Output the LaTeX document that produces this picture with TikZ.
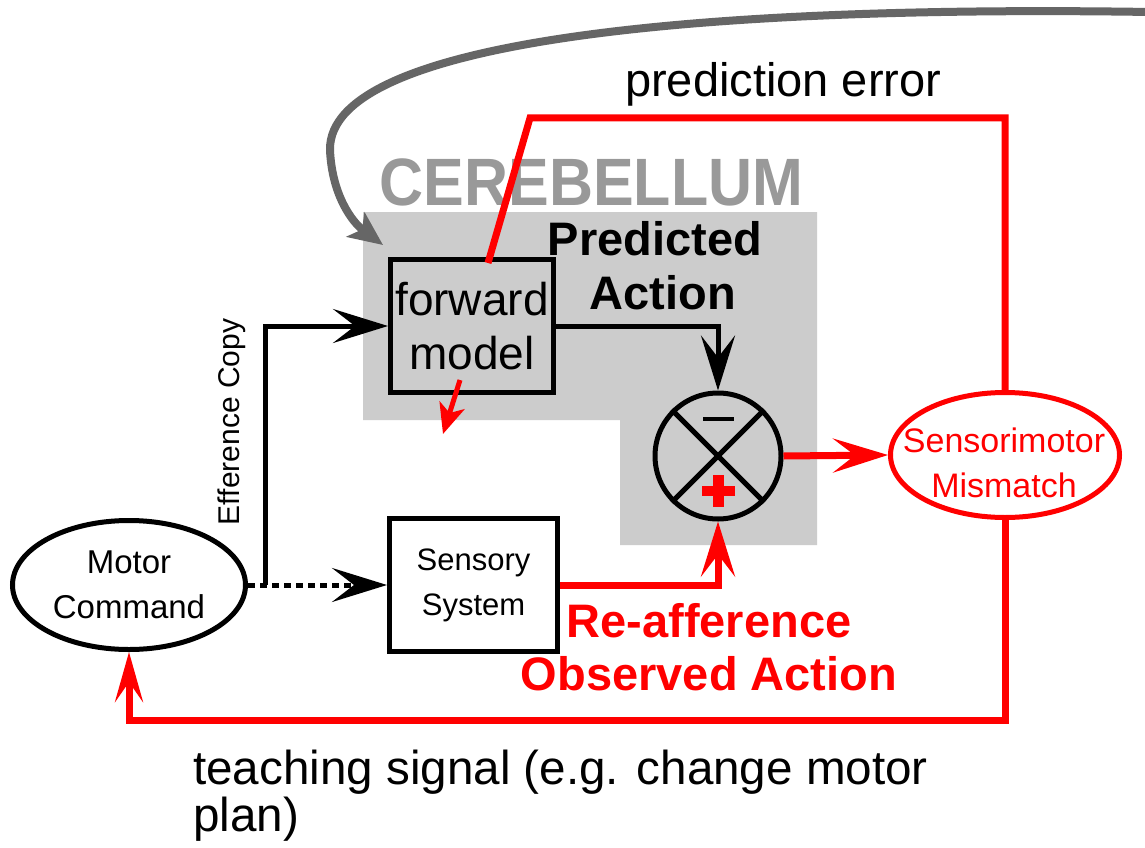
\documentclass[tikz,border=0pt]{standalone}
\usepackage{fontspec}
\setmainfont{Liberation Sans}
\newfontfamily\cerfont[FakeStretch=0.91]{Liberation Sans}
\usetikzlibrary{arrows.meta,shapes.geometric}
\definecolor{cgray}{HTML}{CCCCCC}
\definecolor{tgray}{HTML}{999999}
\definecolor{agray}{HTML}{666666}
\definecolor{myred}{HTML}{FF0000}
\begin{document}
\begin{tikzpicture}[x=1pt,y=-1pt,
  blk/.style={line width=5pt, draw=black},
  redl/.style={line width=7pt, draw=myred},
  bigtip/.style={-{Stealth[length=55pt,width=34pt,inset=22pt]}},
  box/.style={draw, line width=5pt, rectangle, inner sep=0pt, align=center},
  fs/.style={font=\fontsize{#1}{#1}\selectfont}
]
\useasboundingbox (0,0) rectangle (1145,848);
\fill[white] (0,0) rectangle (1145,848);
% cerebellum region
\fill[cgray] (363,212) -- (817,212) -- (817,545) -- (620,545) -- (620,420) -- (363,420) -- cycle;
\node[text=tgray, anchor=base, inner sep=0pt, font=\cerfont\bfseries\fontsize{67}{67}\selectfont] (cer) at (591.5,205) {CEREBELLUM};

% nodes
\node[box, minimum width=163pt, minimum height=133pt, font=\fontsize{46}{54}\selectfont] (fm) at (472,326) {forward\\model};
\node[box, minimum width=168pt, minimum height=133pt, font=\fontsize{31}{45}\selectfont] (ss) at (473.5,585) {Sensory\\System};
\node[draw, line width=5pt, circle, minimum size=126pt, inner sep=0pt] (c) at (718,456) {};
\node[draw, line width=5pt, ellipse, minimum width=233pt, minimum height=129pt, inner sep=0pt, align=center, font=\fontsize{33}{45}\selectfont] (mc) at (129,585) {Motor\\Command};
\node[draw=myred, line width=5pt, ellipse, minimum width=229pt, minimum height=125pt, inner sep=0pt] (sm) at (1005,455) {};
\node[text=myred, inner sep=0pt, align=center, font=\fontsize{34}{45}\selectfont] (smt) at (1004,463) {Sensorimotor\\Mismatch};

% comparator decorations
\draw[blk] (c.45) -- (c.225);
\draw[blk] (c.135) -- (c.315);
\draw[line width=4pt] (703,419) -- (734,419);
\fill[myred] (713,475) rectangle (724,507);
\fill[myred] (702,486) rectangle (735,496);

% labels
\node[anchor=base west, inner sep=0pt, fs=47] (pel) at (625,97) {prediction error};
\node[align=center, inner sep=0pt, font=\bfseries\fontsize{47}{54}\selectfont] (pa) at (659,266) {\hspace*{-8pt}Predicted\\\hspace*{8pt}Action};
\node[align=center, inner sep=0pt, text=myred, font=\bfseries\fontsize{47}{53}\selectfont] (ra) at (709,647) {Re-afference\\Observed Action};
\node[anchor=north west, align=left, inner sep=0pt, font=\fontsize{47.6}{47}\selectfont] (ts) at (193,750) {teaching signal (e.g. change motor\\plan)};
\node[rotate=90, inner sep=0pt, fs=30] (ec) at (232,422) {Efference Copy};

% connectors
\coordinate (br) at (265,585);
\draw[blk, bigtip] (br) |- (fm.west);
\draw[blk, dash pattern=on 7pt off 5pt, bigtip] (mc.east) -- (ss.west);
\draw[blk, bigtip] (fm.east) -| (c.north);
\draw[redl, bigtip] (ss.east) -| (c.south);
\draw[redl, bigtip] (c.east) -- (sm.west);
\coordinate (pe1) at (1005,118);
\coordinate (pe2) at (530,118);
\coordinate (pe3) at (488,263);
\draw[redl] (sm.north) -- (pe1) -- (pe2) -- (pe3);
\coordinate (tc) at (1005,720);
\draw[redl, -{Stealth[length=50pt,width=28pt,inset=20pt]}] (sm.south) -- (tc) -| (mc.south);
\coordinate (fa1) at (460,380);
\coordinate (fa2) at (443,434);
\draw[line width=5pt, myred, -{Stealth[length=30pt,width=26pt,inset=8pt]}] (fa1) -- (fa2);
\coordinate (g1) at (1150,12);
\coordinate (g2) at (330,150);
\coordinate (g3) at (383,245);
\draw[agray, line width=8pt, -{Stealth[length=34pt,width=30pt,inset=8pt]}] (g1) .. controls (700,5) and (328,40) .. (g2) .. controls (332,195) and (352,222) .. (g3);
\end{tikzpicture}
\end{document}
